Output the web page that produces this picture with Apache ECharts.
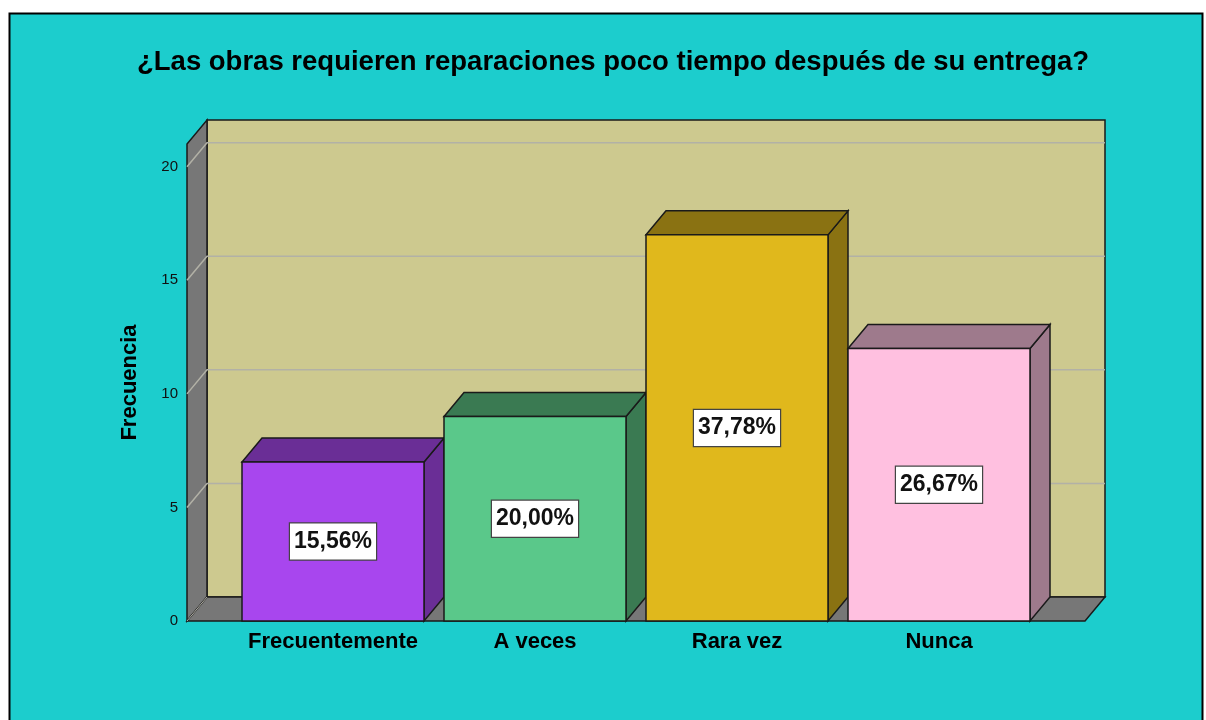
<!DOCTYPE html>
<html>
<head>
<meta charset="utf-8">
<script src="https://cdn.jsdelivr.net/npm/echarts@6/dist/echarts.min.js"></script>
<style>
  html, body { margin: 0; padding: 0; background: #ffffff; }
  #chart { width: 1206px; height: 720px; }
</style>
</head>
<body>
<div id="chart"></div>
<script>
// Survey answers and their frequencies
const categories = ['Frecuentemente', 'A veces', 'Rara vez', 'Nunca'];
const counts = [7, 9, 17, 12];
const yTicks = [0, 5, 10, 15, 20];

// Face colours for each bar: front, top, side
const frontColors = ['#a846ee', '#5ac88a', '#e0b81c', '#ffc0e0'];
const shadeColors = ['#6a2e96', '#3a7a52', '#8a7212', '#9e7a8c'];

const total = counts.reduce((a, b) => a + b, 0);
const pctText = v => (v / total * 100).toFixed(2).replace('.', ',') + '%';

const DEPTH_X = 20, DEPTH_Y = -24;   // 3D depth offset
const WALL_PAD = 45;                 // floor overhang beyond category bands
const EDGE = '#1a1a1a';
const FONT = '"Liberation Sans", Arial, sans-serif';

const chart = echarts.init(document.getElementById('chart'), null, { renderer: 'canvas' });

// Walls, floor and back-wall gridlines, derived from the cartesian system
function renderFrame(params, api) {
  const cs = params.coordSys;
  const x0 = cs.x - WALL_PAD, x1 = cs.x + cs.width + WALL_PAD;
  const top = cs.y, base = cs.y + cs.height;
  const dx = DEPTH_X, dy = DEPTH_Y;
  const children = [];
  // back wall
  children.push({ type: 'polygon', shape: { points: [[x0 + dx, top + dy], [x1 + dx, top + dy], [x1 + dx, base + dy], [x0 + dx, base + dy]] },
    style: { fill: '#cdc98f', stroke: EDGE, lineWidth: 1.5 } });
  // left wall
  children.push({ type: 'polygon', shape: { points: [[x0, base], [x0, top], [x0 + dx, top + dy], [x0 + dx, base + dy]] },
    style: { fill: '#777777', stroke: EDGE, lineWidth: 1.5 } });
  // gridlines
  yTicks.forEach(v => {
    if (v === 0) return;
    const y = api.coord([0, v])[1];
    children.push({ type: 'polyline', shape: { points: [[x0, y], [x0 + dx, y + dy], [x1 + dx, y + dy]] },
      style: { stroke: '#b2b1a6', lineWidth: 1.5, fill: null } });
  });
  // floor
  children.push({ type: 'polygon', shape: { points: [[x0, base], [x1, base], [x1 + dx, base + dy], [x0 + dx, base + dy]] },
    style: { fill: '#777777', stroke: EDGE, lineWidth: 1.5 } });
  children.push({ type: 'line', shape: { x1: x0, y1: base, x2: x0 + dx, y2: base + dy },
    style: { stroke: '#b2b1a6', lineWidth: 1 } });
  return { type: 'group', children };
}

// 3D box for each bar with its percentage label
function renderBar(params, api) {
  const i = api.value(0);
  const v = api.value(1);
  const topPt = api.coord([i, v]);
  const basePt = api.coord([i, 0]);
  const band = api.size([1, 0])[0];
  const w = band - DEPTH_X;
  const xl = topPt[0] - w / 2, xr = topPt[0] + w / 2;
  const yt = topPt[1], yb = basePt[1];
  const dx = DEPTH_X, dy = DEPTH_Y;
  const idx = params.dataIndex;
  return {
    type: 'group',
    children: [
      { type: 'polygon', shape: { points: [[xr, yt], [xr + dx, yt + dy], [xr + dx, yb + dy], [xr, yb]] },
        style: { fill: shadeColors[idx], stroke: EDGE, lineWidth: 1.5 } },
      { type: 'polygon', shape: { points: [[xl, yt], [xr, yt], [xr + dx, yt + dy], [xl + dx, yt + dy]] },
        style: { fill: shadeColors[idx], stroke: EDGE, lineWidth: 1.5 } },
      { type: 'rect', shape: { x: xl, y: yt, width: w, height: yb - yt },
        style: { fill: frontColors[idx], stroke: EDGE, lineWidth: 1.5 } },
      { type: 'text', x: topPt[0], y: (yt + yb) / 2,
        style: { text: pctText(v), fill: '#111111', font: 'bold 23px ' + FONT,
          align: 'center', verticalAlign: 'middle',
          backgroundColor: '#ffffff', borderColor: '#444444', borderWidth: 1.2,
          padding: [7, 4, 6, 4] } }
    ]
  };
}

chart.setOption({
  backgroundColor: '#ffffff',
  animation: false,
  graphic: [{
    type: 'rect', z: -10, silent: true,
    shape: { x: 9.5, y: 13.5, width: 1193, height: 730 },
    style: { fill: '#1ccdcd', stroke: '#000000', lineWidth: 2 }
  }],
  title: {
    text: '¿Las obras requieren reparaciones poco tiempo después de su entrega?',
    left: 132, top: 43,
    textStyle: { fontFamily: FONT, fontWeight: 'bold', fontSize: 27.5, color: '#000000' }
  },
  grid: { left: 232, right: 166, top: 144, bottom: 99 },
  xAxis: {
    type: 'category',
    data: categories,
    axisLine: { show: false },
    axisTick: { show: false },
    axisLabel: { interval: 0, margin: 10, fontFamily: FONT, fontWeight: 'bold', fontSize: 22, color: '#000000' }
  },
  yAxis: {
    type: 'value',
    min: 0, max: 21, interval: 5,
    name: 'Frecuencia',
    nameLocation: 'middle',
    nameRotate: 90,
    nameGap: 91,
    nameTextStyle: { fontFamily: FONT, fontWeight: 'bold', fontSize: 22, color: '#000000' },
    axisLine: { show: false },
    axisTick: { show: false },
    splitLine: { show: false },
    axisLabel: {
      margin: 54, fontFamily: FONT, fontSize: 15, color: '#111111',
      formatter: v => (yTicks.indexOf(v) >= 0 ? String(v) : '')
    }
  },
  series: [
    { type: 'custom', name: 'frame', z: 1, clip: false, silent: true,
      renderItem: renderFrame, data: [[0, 0]] },
    { type: 'custom', name: 'Frecuencia', z: 3, clip: false,
      renderItem: renderBar,
      data: counts.map((c, i) => [i, c]) }
  ]
});
</script>
</body>
</html>
